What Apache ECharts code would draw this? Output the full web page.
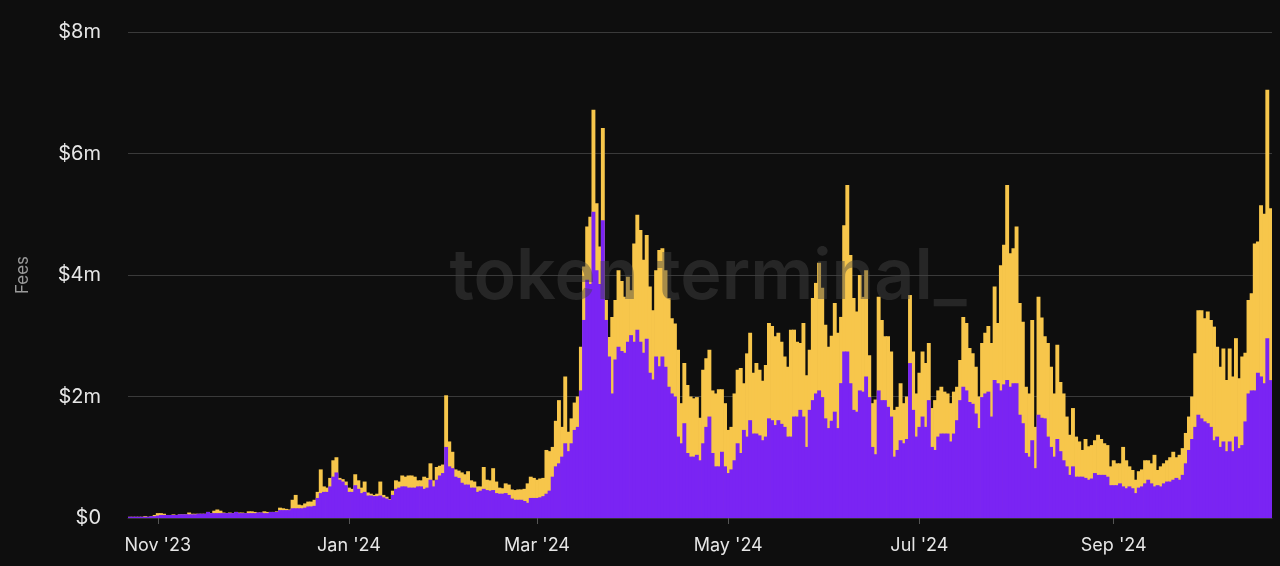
<!DOCTYPE html>
<html>
<head>
<meta charset="utf-8">
<script src="https://cdn.jsdelivr.net/npm/echarts@6/dist/echarts.min.js"></script>
<style>
html,body{margin:0;padding:0;background:#0e0e0e;}
#chart{width:1280px;height:566px;}
</style>
</head>
<body>
<div id="chart"></div>
<script>
// Daily fees, $m. First day = 2023-10-23
const startDate = '2023-10-23';
const totalFees = [
0.02,0.02,0.02,0.02,0.02,0.03,0.02,0.03,0.05,0.08,
0.08,0.07,0.05,0.05,0.06,0.05,0.06,0.06,0.06,0.09,
0.07,0.07,0.07,0.07,0.07,0.1,0.08,0.12,0.14,0.12,
0.09,0.08,0.09,0.08,0.1,0.09,0.09,0.08,0.11,0.11,
0.1,0.09,0.09,0.11,0.1,0.1,0.1,0.11,0.17,0.16,
0.15,0.14,0.3,0.38,0.22,0.21,0.24,0.27,0.27,0.3,
0.43,0.8,0.52,0.5,0.66,0.95,1.0,0.66,0.64,0.6,
0.5,0.48,0.72,0.62,0.5,0.6,0.42,0.4,0.38,0.4,
0.6,0.38,0.35,0.31,0.45,0.62,0.6,0.7,0.68,0.7,
0.7,0.68,0.62,0.62,0.68,0.66,0.9,0.62,0.84,0.86,
0.88,2.02,1.26,1.09,0.8,0.78,0.75,0.72,0.77,0.62,
0.6,0.52,0.52,0.84,0.63,0.62,0.82,0.6,0.5,0.49,
0.57,0.55,0.47,0.46,0.47,0.47,0.48,0.57,0.68,0.66,
0.63,0.65,0.66,1.12,1.1,1.17,1.6,1.94,1.5,2.33,
1.42,1.64,1.9,2.0,2.82,4.14,4.8,4.96,6.72,5.18,
4.47,6.42,3.59,2.98,3.31,3.59,4.08,3.9,3.64,3.97,
3.75,4.52,4.99,4.74,4.25,4.66,3.81,3.42,4.08,4.41,
4.44,4.08,3.62,3.29,3.2,2.77,1.89,2.55,2.19,2.0,
1.97,1.99,1.65,2.44,2.63,2.77,2.1,2.05,2.12,2.12,
1.89,1.45,1.5,2.05,2.44,2.47,2.22,2.71,3.05,2.39,
2.55,2.44,2.26,2.52,3.21,3.16,2.99,3.05,2.9,2.66,
2.49,3.1,3.1,2.9,2.88,3.21,2.35,2.77,3.62,3.87,
4.2,3.79,3.18,2.82,3.0,3.54,3.05,3.31,4.82,5.48,
4.33,3.62,3.4,4.0,3.64,4.08,2.68,1.89,1.95,3.64,
3.26,2.99,2.99,2.74,1.78,1.83,2.22,1.89,2.0,3.67,
2.74,2.05,2.39,2.74,2.55,2.88,1.81,1.94,2.1,2.16,
2.08,2.05,1.89,2.08,2.16,2.6,3.31,3.21,2.8,2.71,
2.49,2.0,2.88,3.05,3.16,2.88,3.81,3.21,4.16,4.5,
5.48,4.36,4.44,4.8,3.54,3.23,2.16,2.05,3.26,1.5,
3.64,3.3,2.99,2.88,2.49,2.05,2.85,2.24,2.05,1.67,
1.37,1.81,1.34,1.26,1.12,1.3,1.18,1.2,1.28,1.37,
1.3,1.23,1.2,0.85,0.95,0.9,0.9,1.17,0.95,0.85,
0.79,0.63,0.77,0.8,0.95,0.95,0.9,1.04,0.79,0.85,
0.9,0.95,1.0,1.09,1.0,1.04,1.15,1.4,1.67,2.0,
2.71,3.42,3.42,3.29,3.4,3.26,3.15,2.82,2.49,2.79,
2.27,2.79,2.33,2.96,2.3,2.66,2.72,3.59,3.7,4.52,
4.55,5.15,5.01,7.05,5.1
];
const purpleFees = [
0.02,0.02,0.02,0.02,0.02,0.02,0.02,0.03,0.03,0.04,
0.05,0.05,0.05,0.05,0.05,0.05,0.06,0.06,0.06,0.06,
0.06,0.06,0.07,0.07,0.07,0.1,0.08,0.08,0.08,0.08,
0.08,0.08,0.08,0.08,0.1,0.08,0.08,0.08,0.08,0.08,
0.08,0.09,0.09,0.08,0.08,0.1,0.1,0.1,0.13,0.13,
0.13,0.13,0.16,0.16,0.16,0.16,0.17,0.19,0.19,0.2,
0.33,0.41,0.43,0.43,0.52,0.68,0.75,0.63,0.6,0.54,
0.43,0.43,0.54,0.48,0.41,0.43,0.37,0.37,0.36,0.36,
0.37,0.34,0.32,0.3,0.38,0.48,0.5,0.52,0.52,0.5,
0.5,0.5,0.52,0.52,0.48,0.5,0.63,0.52,0.63,0.7,
0.74,1.17,0.85,0.82,0.68,0.66,0.58,0.55,0.55,0.5,
0.5,0.43,0.45,0.48,0.46,0.45,0.46,0.41,0.4,0.4,
0.41,0.38,0.32,0.3,0.3,0.3,0.28,0.25,0.33,0.33,
0.33,0.34,0.36,0.4,0.45,0.68,0.85,0.9,1.01,1.23,
1.1,1.23,1.45,1.5,2.1,3.26,3.92,3.85,5.04,4.08,
3.85,4.9,3.26,2.66,2.05,2.61,2.82,2.75,2.72,2.9,
3.01,2.9,3.1,2.9,2.72,2.95,2.39,2.28,2.66,2.5,
2.66,2.49,2.16,2.05,2.0,1.34,1.23,1.56,1.07,1.01,
1.01,1.04,0.95,1.23,1.5,1.67,1.07,0.85,0.85,1.09,
0.85,0.74,0.8,0.95,1.23,1.07,1.45,1.34,1.61,1.39,
1.39,1.36,1.28,1.34,1.64,1.61,1.53,1.61,1.55,1.5,
1.34,1.34,1.67,1.67,1.78,1.67,1.17,1.78,1.94,2.05,
2.1,1.99,1.64,1.48,1.6,1.75,1.48,2.22,2.74,2.74,
2.22,1.78,1.75,2.1,2.08,2.33,1.99,1.17,1.05,2.1,
1.94,1.94,1.83,1.67,1.01,1.12,1.28,1.23,1.3,2.55,
1.78,1.34,1.5,1.67,1.5,1.94,1.17,1.12,1.34,1.39,
1.39,1.39,1.26,1.39,1.61,1.94,2.16,2.1,1.91,1.88,
1.72,1.48,1.99,2.05,2.08,1.67,2.27,2.22,2.1,2.2,
2.27,2.16,2.22,2.22,1.7,1.56,1.07,1.01,1.28,0.82,
1.7,1.65,1.64,1.34,1.17,1.01,1.3,1.1,0.95,0.85,
0.71,0.85,0.68,0.68,0.68,0.66,0.63,0.65,0.74,0.71,
0.71,0.71,0.68,0.54,0.54,0.54,0.57,0.52,0.49,0.52,
0.49,0.41,0.5,0.52,0.57,0.63,0.57,0.52,0.54,0.52,
0.57,0.6,0.6,0.63,0.66,0.63,0.71,0.9,1.12,1.3,
1.5,1.7,1.64,1.59,1.56,1.5,1.28,1.34,1.17,1.26,
1.1,1.26,1.1,1.34,1.15,1.2,1.59,2.05,2.1,2.1,
2.39,2.33,2.22,2.96,2.27
];
const yTicks = [0, 2, 4, 6, 8];
const monthNames = ['Jan','Feb','Mar','Apr','May','Jun','Jul','Aug','Sep','Oct','Nov','Dec'];
const labelMonths = [1, 3, 5, 7, 9, 11];

const dates = [];
{
  const d0 = new Date(startDate + 'T00:00:00Z');
  for (let i = 0; i < totalFees.length; i++) {
    const d = new Date(d0.getTime() + i * 86400000);
    dates.push(d.toISOString().slice(0, 10));
  }
}
function isLabelDay(v) {
  const m = parseInt(v.slice(5, 7), 10);
  return v.slice(8, 10) === '01' && labelMonths.indexOf(m) >= 0;
}
function fmtDate(v) {
  const m = parseInt(v.slice(5, 7), 10);
  return monthNames[m - 1] + " '" + v.slice(2, 4);
}

const chart = echarts.init(document.getElementById('chart'), null, {renderer: 'canvas'});
chart.setOption({
  backgroundColor: '#0e0e0e',
  animation: false,
  grid: {left: 128, right: 8, top: 32, bottom: 48},
  xAxis: {
    type: 'category',
    data: dates,
    boundaryGap: true,
    axisLine: {show: true, lineStyle: {color: '#333', width: 1}},
    axisTick: {show: true, alignWithLabel: true, length: 6, lineStyle: {color: '#555'},
      interval: (idx, v) => isLabelDay(v)},
    axisLabel: {
      interval: (idx, v) => isLabelDay(v),
      formatter: fmtDate,
      color: '#e6e6e6', fontFamily: 'Inter', fontSize: 18, margin: 19
    },
    splitLine: {show: false}
  },
  yAxis: {
    type: 'value',
    min: yTicks[0], max: yTicks[yTicks.length - 1], interval: 2,
    name: 'Fees', nameLocation: 'middle', nameGap: 97, nameRotate: 90,
    nameTextStyle: {color: '#9a9a9a', fontFamily: 'Inter', fontSize: 17},
    axisLine: {show: false}, axisTick: {show: false},
    axisLabel: {color: '#e6e6e6', fontFamily: 'Inter', fontSize: 20, margin: 27,
      formatter: v => v === 0 ? '$0' : '$' + v + 'm'},
    splitLine: {lineStyle: {color: '#3a3a3a', width: 1}}
  },
  graphic: [{
    type: 'text', z: 100, silent: true,
    style: {x: 708, y: 278, text: 'token terminal_', textAlign: 'center', textVerticalAlign: 'middle',
      font: '600 70px Inter', fill: 'rgba(68,68,68,0.45)'}
  }],
  series: [
    {name: 'Total', type: 'bar', data: totalFees, barWidth: 3.9, barGap: '-100%',
     itemStyle: {color: '#f7c64b'}},
    {name: 'Purple', type: 'bar', data: purpleFees, barWidth: 3.9, barGap: '-100%',
     itemStyle: {color: '#7a24f3'}}
  ]
});
</script>
</body>
</html>
